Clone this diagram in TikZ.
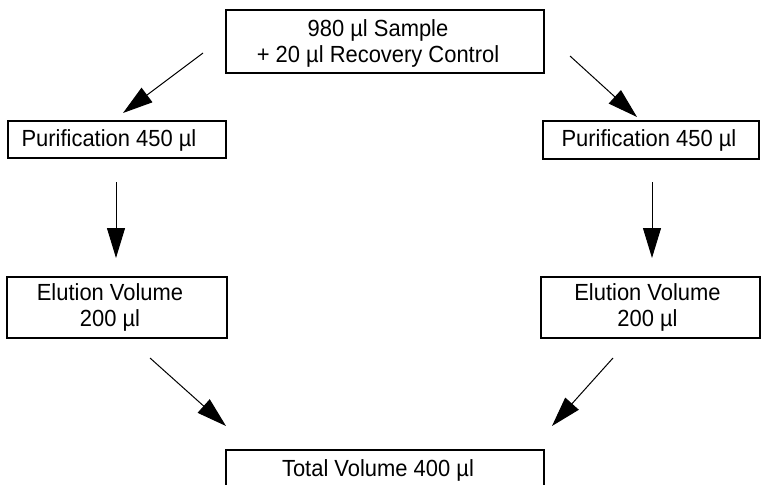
\documentclass[tikz,border=0pt]{standalone}
\usepackage{fontspec}
\setmainfont{Liberation Sans}[FakeStretch=0.94]
\usetikzlibrary{arrows.meta}
\begin{document}
\begin{tikzpicture}[x=0.75pt,y=-0.75pt,
  box/.style={draw,line width=1.5pt,inner sep=0pt},
  txt/.style={inner sep=0pt,align=center,font=\fontsize{17.5pt}{19.5pt}\selectfont},
  arr/.style={line width=0.75pt,-{Triangle[length=22.5pt,width=13.5pt]}}]
\useasboundingbox (0,0) rectangle (768,485);
\clip (0,0) rectangle (768,485);
\node[box,minimum width=238.5pt,minimum height=47.25pt] (top) at (384.5,41.5) {};
\node[txt] (topt) at (378,43.5) {980 µl Sample\\+ 20 µl Recovery Control};
\node[box,minimum width=163.5pt,minimum height=27.75pt] (pl) at (117,139.5) {};
\node[txt] (plt) at (109,140) {Purification 450 µl};
\node[box,minimum width=162pt,minimum height=28.5pt] (pr) at (651,140) {};
\node[txt] (prt) at (649,140) {Purification 450 µl};
\node[box,minimum width=165pt,minimum height=45.75pt] (el) at (117,307.5) {};
\node[txt] (elt) at (110,307.5) {Elution Volume\\200 µl};
\node[box,minimum width=164.25pt,minimum height=45.75pt] (er) at (650.5,307.5) {};
\node[txt] (ert) at (647.5,307.5) {Elution Volume\\200 µl};
\node[box,minimum width=238.5pt,minimum height=45pt] (tot) at (385,480) {};
\node[txt] (tott) at (378,470) {Total Volume 400 µl};
\coordinate (a1s) at (203,53); \coordinate (a1e) at (123,113);
\coordinate (a2s) at (570,56); \coordinate (a2e) at (637,117);
\coordinate (a3s) at (116,182); \coordinate (a3e) at (116,258);
\coordinate (a4s) at (652,182); \coordinate (a4e) at (652,258);
\coordinate (a5s) at (150,358); \coordinate (a5e) at (226,426);
\coordinate (a6s) at (613,358); \coordinate (a6e) at (552,426);
\draw[arr] (a1s) -- (a1e);
\draw[arr] (a2s) -- (a2e);
\draw[arr] (a3s) -- (a3e);
\draw[arr] (a4s) -- (a4e);
\draw[arr] (a5s) -- (a5e);
\draw[arr] (a6s) -- (a6e);
\end{tikzpicture}
\end{document}
